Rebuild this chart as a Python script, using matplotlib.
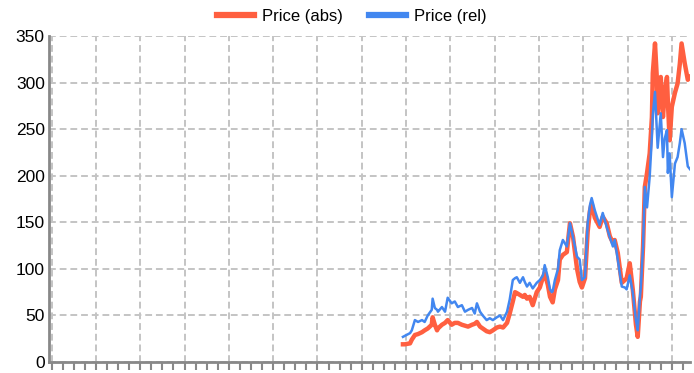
import numpy as np
import matplotlib
matplotlib.use("Agg")
import matplotlib.pyplot as plt
from matplotlib.ticker import MultipleLocator

plt.rcParams['font.family'] = ['Liberation Sans', 'DejaVu Sans']

# time in decimal years
years = [2014.93, 2014.97, 2015.09, 2015.13, 2015.20, 2015.27, 2015.36, 2015.42, 2015.49, 2015.58,
         2015.60, 2015.65, 2015.70, 2015.72, 2015.81, 2015.88, 2015.94, 2016.03, 2016.10, 2016.17,
         2016.26, 2016.33, 2016.40, 2016.49, 2016.55, 2016.60, 2016.67, 2016.73, 2016.82, 2016.89,
         2016.96, 2017.05, 2017.12, 2017.19, 2017.28, 2017.34, 2017.41, 2017.46, 2017.50, 2017.57,
         2017.64, 2017.68, 2017.73, 2017.79, 2017.86, 2017.95, 2018.02, 2018.09, 2018.13, 2018.20,
         2018.25, 2018.29, 2018.31,
         2018.36, 2018.43, 2018.47, 2018.54, 2018.63, 2018.70, 2018.77, 2018.86, 2018.92, 2018.97,
         2019.04, 2019.10, 2019.15, 2019.19, 2019.26, 2019.37, 2019.44, 2019.53, 2019.60, 2019.67,
         2019.71, 2019.78, 2019.87, 2019.94, 2019.98, 2020.05, 2020.12, 2020.19, 2020.23, 2020.28,
         2020.30, 2020.35, 2020.39, 2020.44, 2020.50, 2020.55, 2020.57, 2020.62, 2020.66, 2020.68,
         2020.75, 2020.80, 2020.84, 2020.89, 2020.91, 2020.95, 2021.00, 2021.07, 2021.13, 2021.18,
         2021.22, 2021.29, 2021.36, 2021.41]

price_abs = [19, 19, 20, 24, 29, 30, 32, 34, 36, 40,
             48, 40, 34, 36, 40, 42, 45, 40, 42, 42,
             40, 39, 38, 40, 41, 43, 38, 36, 33, 32,
             34, 37, 38, 37, 42, 52, 65, 75, 74, 72,
             70, 72, 68, 70, 61, 75, 80, 91, 95, 83,
             70, 66, 64,
             78, 88, 110, 115, 118, 149, 134, 100, 86, 80,
             90, 140, 162, 170, 155, 145, 156, 149, 135, 128,
             131, 117, 85, 88, 90, 106, 77, 40, 27, 65,
             70, 124, 188, 203, 224, 263, 310, 342, 306, 267,
             306, 263, 290, 306, 280, 238, 274, 289, 299, 320,
             342, 321, 303, 306]

price_rel = [27, 28, 31, 34, 45, 43, 45, 43, 50, 56,
             68, 58, 56, 54, 59, 54, 69, 63, 65, 59,
             61, 54, 56, 58, 52, 63, 54, 50, 45, 47,
             45, 48, 50, 45, 54, 67, 88, 90, 91, 85,
             91, 86, 81, 85, 79, 85, 88, 93, 104, 91,
             78, 75, 76,
             88, 100, 120, 131, 124, 149, 134, 113, 110, 88,
             91, 149, 168, 176, 163, 147, 160, 145, 134, 124,
             131, 110, 81, 80, 78, 93, 74, 45, 34, 70,
             80, 124, 188, 166, 199, 242, 265, 290, 250, 230,
             267, 220, 240, 249, 203, 224, 177, 213, 220, 235,
             250, 235, 210, 207]

fig = plt.figure(figsize=(6.94, 3.73), dpi=100)
ax = fig.add_axes([49 / 694, 1 - 362 / 373, 641 / 694, 326 / 373])

ax.plot(years, price_abs, color='#ff5f40', lw=3.2, label='Price (abs)', solid_joinstyle='round')
ax.plot(years, price_rel, color='#4287f0', lw=1.8, label='Price (rel)', solid_joinstyle='round')

ax.set_xlim(2006.94, 2021.41)
ax.set_ylim(0, 350)
ax.yaxis.set_major_locator(MultipleLocator(50))
ax.xaxis.set_major_locator(MultipleLocator(1))
ax.xaxis.set_minor_locator(MultipleLocator(0.25))
ax.set_xticklabels([])

ax.grid(True, which='major', color='#c4c4c4', lw=1.4, linestyle=(0, (3.5, 2)))
ax.set_axisbelow(True)

for s in ['top', 'right']:
    ax.spines[s].set_visible(False)
for s in ['left', 'bottom']:
    ax.spines[s].set_color('#888888')
    ax.spines[s].set_linewidth(2)

ax.tick_params(axis='y', length=0, pad=3, labelsize=12.5, labelcolor='black')
ax.tick_params(axis='x', which='both', length=6, width=1.5, color='#888888', direction='out')

leg = fig.legend(loc='center', bbox_to_anchor=(352 / 694, 1 - 16 / 373), ncol=2, frameon=False,
                 fontsize=12, handlelength=2.2, handletextpad=0.5, columnspacing=1.6)
for line in leg.get_lines():
    line.set_linewidth(4.5)

fig.savefig('out.png', dpi=100)
